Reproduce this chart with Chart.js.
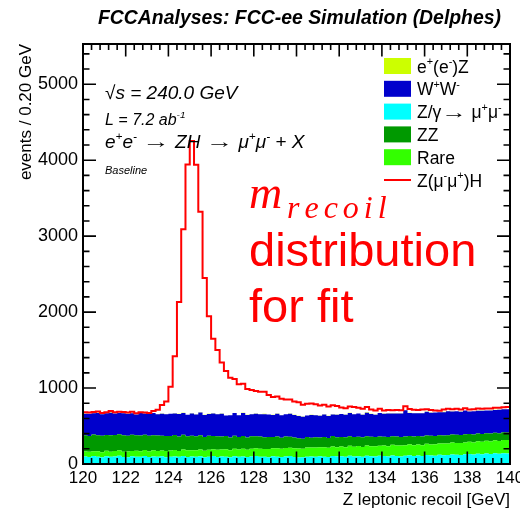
<!DOCTYPE html>
<html>
<head>
<meta charset="utf-8">
<script src="https://cdn.jsdelivr.net/npm/chart.js@4/dist/chart.umd.min.js"></script>
<style>
  html, body { margin: 0; padding: 0; background: #fff; }
  canvas { display: block; }
</style>
</head>
<body>
<canvas id="c" width="520" height="515"></canvas>
<script>
// ---- data (events per 0.20 GeV bin, 120-140 GeV) ----
const binLow = Array.from({ length: 100 }, (_, i) => +(120 + 0.2 * i).toFixed(1));
const binHigh = 140;
const xTicks = [120, 122, 124, 126, 128, 130, 132, 134, 136, 138, 140];
const yTicks = [0, 1000, 2000, 3000, 4000, 5000];

const zmumu = [
  98, 92, 105, 96, 88, 101, 94, 99, 107, 93,
  90, 102, 97, 95, 104, 91, 99, 96, 103, 88,
  97, 100, 94, 106, 92, 98, 95, 101, 90, 97,
  104, 93, 99, 96, 88, 102, 95, 100, 91, 98,
  106, 94, 97, 90, 101, 96, 93, 99, 104, 92,
  85, 88, 96, 100, 94, 103, 97, 92, 105, 98,
  101, 95, 108, 99, 103, 96, 110, 102, 98, 107,
  104, 100, 112, 105, 99, 108, 115, 106, 111, 104,
  118, 112, 109, 121, 115, 119, 126, 122, 118, 128,
  131, 125, 134, 130, 137, 132, 140, 136, 142, 138];

const rare = [
  66, 70, 64, 72, 68, 74, 67, 71, 75, 69,
  73, 70, 77, 72, 79, 75, 81, 76, 74, 82,
  80, 85, 78, 84, 88, 82, 87, 90, 85, 92,
  89, 94, 91, 97, 93, 99, 96, 101, 98, 103,
  100, 106, 102, 108, 105, 111, 107, 113, 110, 116,
  118, 114, 121, 117, 123, 119, 125, 121, 127, 123,
  128, 125, 131, 127, 133, 129, 135, 131, 137, 133,
  138, 134, 140, 137, 143, 139, 145, 141, 147, 144,
  149, 146, 152, 148, 155, 151, 157, 154, 160, 156,
  162, 159, 166, 162, 169, 165, 172, 168, 175, 178];

const zz = [
  214, 208, 220, 211, 217, 206, 219, 212, 209, 216,
  210, 213, 204, 209, 201, 207, 198, 204, 196, 200,
  193, 198, 189, 194, 186, 191, 183, 187, 180, 184,
  176, 180, 172, 176, 168, 172, 165, 169, 161, 165,
  158, 162, 154, 158, 151, 155, 147, 151, 144, 140,
  136, 132, 138, 130, 135, 128, 134, 130, 136, 131,
  128, 133, 126, 130, 124, 128, 121, 125, 119, 123,
  117, 121, 115, 119, 112, 116, 110, 114, 111, 115,
  109, 113, 107, 111, 106, 110, 104, 108, 103, 107,
  102, 106, 100, 104, 99, 103, 98, 102, 101, 99];

const ww = [
  285, 290, 278, 293, 281, 288, 296, 283, 279, 291,
  287, 282, 275, 294, 280, 286, 292, 278, 289, 284,
  291, 283, 296, 288, 281, 293, 286, 299, 290, 284,
  295, 288, 300, 268, 292, 297, 286, 301, 294, 289,
  298, 292, 303, 295, 288, 300, 296, 291, 305, 297,
  294, 288, 282, 297, 291, 285, 296, 290, 284, 298,
  300, 295, 308, 299, 304, 297, 310, 301, 296, 307,
  303, 309, 298, 305, 311, 345, 302, 308, 299, 306,
  312, 304, 309, 301, 307, 314, 303, 310, 306, 312,
  297, 303, 300, 306, 298, 304, 301, 308, 302, 305];

const eez = [
  3, 2, 4, 3, 3, 2, 4, 3, 2, 3,
  4, 3, 2, 3, 4, 3, 2, 4, 3, 3,
  2, 3, 4, 3, 2, 3, 3, 4, 2, 3,
  3, 4, 2, 3, 3, 2, 4, 3, 3, 2,
  3, 3, 4, 2, 3, 4, 3, 2, 3, 4,
  3, 2, 3, 4, 3, 3, 2, 3, 4, 3,
  2, 3, 3, 4, 2, 3, 4, 3, 2, 3,
  3, 4, 3, 2, 3, 3, 4, 2, 3, 3,
  4, 3, 2, 3, 4, 3, 3, 2, 4, 3,
  3, 2, 4, 3, 3, 4, 2, 3, 3, 4];

const signal = [
  14, 16, 13, 17, 15, 12, 18, 14, 16, 13,
  15, 17, 14, 10, 9, 11, 26, 56, 111, 166,
  354, 749, 1473, 2416, 3294, 3587, 3287, 2640, 1802, 1287,
  983, 843, 673, 583, 493, 448, 405, 383, 339, 318,
  296, 294, 292, 254, 234, 224, 214, 194, 184, 174,
  177, 157, 152, 147, 142, 132, 127, 122, 117, 112,
  86, 84, 81, 91, 76, 74, 71, 56, 51, 54,
  41, 44, 39, 43, 41, 50, 47, 44, 41, 45,
  30, 33, 27, 18, 29, 32, 27, 30, 26, 28,
  22, 25, 27, 21, 26, 22, 28, 23, 25, 27];

const seriesNames = ['Z/γ→ μ⁺μ⁻', 'Rare', 'ZZ', 'W⁺W⁻', 'e⁺(e⁻)Z', 'Z(μ⁻μ⁺)H'];
const seriesColors = ['#00ffff', '#33ff00', '#009900', '#0000cc', '#ccff00', '#ff0000'];

// ---- helpers ----
function hist(vals) {
  const pts = binLow.map((x, i) => ({ x: x, y: vals[i] }));
  pts.push({ x: binHigh, y: vals[vals.length - 1] });
  return pts;
}
function bgSet(idx, vals) {
  return {
    label: seriesNames[idx], data: hist(vals),
    backgroundColor: seriesColors[idx], borderColor: seriesColors[idx],
    borderWidth: 0, fill: idx === 0 ? 'origin' : '-1',
    stepped: 'before', pointRadius: 0, stack: 's'
  };
}

const FONT = '"Liberation Sans", Arial, Helvetica, sans-serif';
const SERIF = '"Liberation Serif", "Times New Roman", serif';

// parts: [text, kind] kind 0 normal, 1 superscript, -1 subscript, 2 stretched arrow
function rich(ctx, x, y, parts, size, style) {
  let cx = x;
  for (const [t, k] of parts) {
    if (k === 2) {
      ctx.font = `${style} ${size}px ${FONT}`;
      const w = ctx.measureText(t).width;
      ctx.save();
      ctx.translate(cx, y);
      ctx.scale(1.45, 1);
      ctx.fillText(t, 0, 0);
      ctx.restore();
      cx += w * 1.45;
      continue;
    }
    const s = k ? size * 0.62 : size;
    ctx.font = `${style} ${s}px ${FONT}`;
    const dy = k === 1 ? -size * 0.42 : (k === -1 ? size * 0.22 : 0);
    ctx.fillText(t, cx, y + dy);
    cx += ctx.measureText(t).width;
  }
  return cx;
}

const whiteBg = {
  id: 'whiteBg',
  beforeDraw(chart) {
    const c = chart.ctx;
    c.save(); c.fillStyle = '#fff'; c.fillRect(0, 0, chart.width, chart.height); c.restore();
  }
};

const frameTicks = {
  id: 'frameTicks',
  afterDatasetsDraw(chart) {
    const { ctx, chartArea: a, scales: { x, y } } = chart;
    ctx.save();
    ctx.strokeStyle = '#000';
    ctx.lineWidth = 1.6;
    ctx.beginPath();
    for (let i = 0; i * 200 <= y.max; i++) {
      const py = y.getPixelForValue(i * 200);
      const L = i % 5 === 0 ? 13 : 6.5;
      ctx.moveTo(a.left, py); ctx.lineTo(a.left + L, py);
      ctx.moveTo(a.right, py); ctx.lineTo(a.right - L, py);
    }
    for (let i = 0; i <= 50; i++) {
      const px = x.getPixelForValue(120 + 0.4 * i);
      const L = i % 5 === 0 ? 12.5 : 6;
      ctx.moveTo(px, a.bottom); ctx.lineTo(px, a.bottom - L);
      ctx.moveTo(px, a.top); ctx.lineTo(px, a.top + L);
    }
    ctx.stroke();
    ctx.lineWidth = 2;
    ctx.strokeRect(a.left, a.top, a.right - a.left, a.bottom - a.top);
    ctx.restore();
  }
};

const texts = {
  id: 'texts',
  afterDraw(chart) {
    const ctx = chart.ctx;
    const a = chart.chartArea;
    ctx.save();
    ctx.fillStyle = '#000';
    ctx.textBaseline = 'alphabetic';
    // title
    ctx.font = `italic bold 19.4px ${FONT}`;
    ctx.textAlign = 'center';
    ctx.fillText('FCCAnalyses: FCC-ee Simulation (Delphes)', 299.5, 24);
    // x title
    ctx.font = `17px ${FONT}`;
    ctx.textAlign = 'right';
    ctx.fillText('Z leptonic recoil [GeV]', a.right, 505);
    // y title
    ctx.save();
    ctx.translate(31, a.top);
    ctx.rotate(-Math.PI / 2);
    ctx.textAlign = 'right';
    ctx.fillText('events / 0.20 GeV', 0, 0);
    ctx.restore();

    ctx.textAlign = 'left';
    // info texts
    ctx.font = `italic 19px ${FONT}`;
    ctx.fillText('√s = 240.0 GeV', 105, 99);
    rich(ctx, 105, 125, [['L = 7.2 ab', 0], ['-1', 1]], 16, 'italic');
    rich(ctx, 105, 148, [['e', 0], ['+', 1], ['e', 0], ['-', 1], [' ', 0], ['→', 2], [' ZH ', 0], ['→', 2], [' ', 0],
      ['μ', 0], ['+', 1], ['μ', 0], ['-', 1], [' + X', 0]], 19, 'italic');
    ctx.font = `italic 11px ${FONT}`;
    ctx.fillText('Baseline', 105, 174);

    // legend
    const legendParts = [
      [['e', 0], ['+', 1], ['(e', 0], ['-', 1], [')Z', 0]],
      [['W', 0], ['+', 1], ['W', 0], ['-', 1]],
      [['Z/γ', 0], ['→', 2], [' ', 0], ['μ', 0], ['+', 1], ['μ', 0], ['-', 1]],
      [['ZZ', 0]],
      [['Rare', 0]],
      [['Z(μ', 0], ['-', 1], ['μ', 0], ['+', 1], [')H', 0]]
    ];
    const legendColorIdx = [4, 3, 0, 2, 1, 5];
    for (let r = 0; r < 6; r++) {
      const cy = 66 + r * 22.8;
      const col = seriesColors[legendColorIdx[r]];
      if (r < 5) {
        ctx.fillStyle = col;
        ctx.fillRect(384, cy - 8, 27, 16);
      } else {
        ctx.strokeStyle = col; ctx.lineWidth = 2;
        ctx.beginPath(); ctx.moveTo(384, cy); ctx.lineTo(411, cy); ctx.stroke();
      }
      ctx.fillStyle = '#000';
      rich(ctx, 417, cy + 6.5, legendParts[r], 17.5, 'normal');
    }

    // red annotation
    ctx.fillStyle = '#ff0000';
    ctx.font = `italic 46px ${SERIF}`;
    ctx.fillText('m', 249, 208);
    ctx.font = `italic 32px ${SERIF}`;
    let cx = 287;
    for (const ch of 'recoil') {
      ctx.fillText(ch, cx, 218);
      cx += ctx.measureText(ch).width + 5;
    }
    ctx.font = `47px ${FONT}`;
    ctx.fillText('distribution', 249, 266);
    ctx.fillText('for fit', 249, 322);
    ctx.restore();
  }
};

new Chart(document.getElementById('c'), {
  type: 'line',
  data: {
    datasets: [
      bgSet(0, zmumu),
      bgSet(1, rare),
      bgSet(2, zz),
      bgSet(3, ww),
      bgSet(4, eez),
      {
        label: seriesNames[5], data: hist(signal),
        borderColor: seriesColors[5], backgroundColor: seriesColors[5],
        borderWidth: 2, fill: false, stepped: 'before', pointRadius: 0, stack: 's'
      }
    ]
  },
  options: {
    responsive: false,
    animation: false,
    events: [],
    layout: { padding: { left: 0, right: 10, top: 44, bottom: 0 } },
    scales: {
      x: {
        type: 'linear', min: 120, max: 140,
        grid: { display: false, drawTicks: false }, border: { display: false },
        afterBuildTicks: s => { s.ticks = xTicks.map(v => ({ value: v })); },
        ticks: {
          color: '#000', font: { family: FONT, size: 17 }, padding: 4,
          maxRotation: 0, autoSkip: false, callback: v => String(v)
        },
        afterFit: s => { s.height = 51; s.paddingLeft = 0; s.paddingRight = 0; }
      },
      y: {
        type: 'linear', stacked: true, min: 0, max: 5530,
        grid: { display: false, drawTicks: false }, border: { display: false },
        afterBuildTicks: s => { s.ticks = yTicks.map(v => ({ value: v })); },
        ticks: {
          color: '#000', font: { family: FONT, size: 18 }, padding: 5,
          autoSkip: false, callback: v => String(v)
        },
        afterFit: s => { s.width = 83; s.paddingTop = 0; s.paddingBottom = 0; }
      }
    },
    plugins: {
      legend: { display: false },
      tooltip: { enabled: false },
      title: { display: false },
      filler: { drawTime: 'beforeDatasetsDraw' }
    }
  },
  plugins: [whiteBg, frameTicks, texts]
});
</script>
</body>
</html>
